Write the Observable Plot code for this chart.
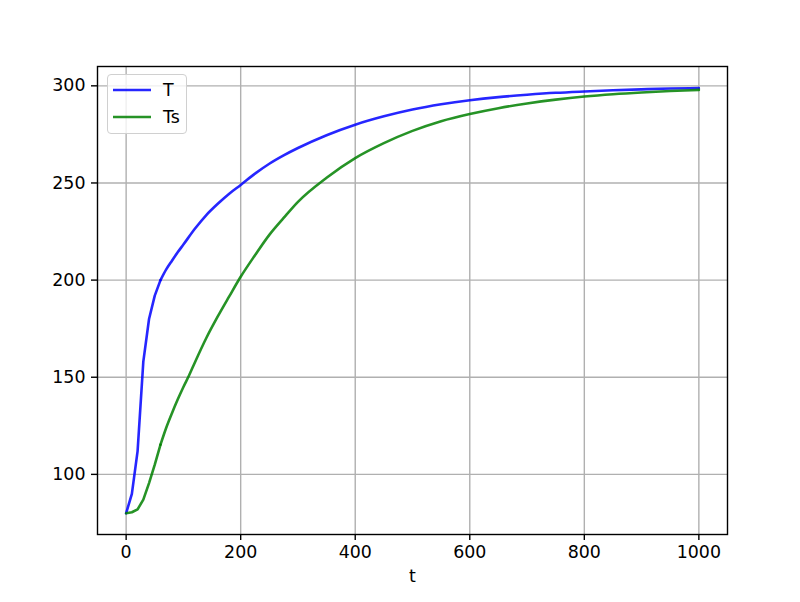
<!DOCTYPE html>
<html>
<head>
<meta charset="utf-8">
<script src="https://cdn.jsdelivr.net/npm/d3@7"></script>
<script src="https://cdn.jsdelivr.net/npm/@observablehq/plot@0.6"></script>
<style>
  html, body { margin: 0; padding: 0; background: #fff; }
  #wrap { position: relative; width: 800px; height: 602px; font-family: "DejaVu Sans", sans-serif; }
  #legend { position: absolute; left: 107px; top: 74px; width: 78px; height: 58px;
    border: 1px solid #d0d0d0; border-radius: 4px; background: rgba(255,255,255,0.8);
    font-size: 17.4px; color: #000; }
  .entry { position: absolute; left: 5px; height: 22px; display: flex; align-items: center; }
  .entry svg { display: block; }
  .entry span { margin-left: 12px; }
</style>
</head>
<body>
<div id="wrap"><div id="legend"></div></div>
<script>
// Series names and colours
const seriesNames = ["T", "Ts"];
const seriesColors = ["#0000ff", "#008000"];

// Time samples (t) and values
const tT = [0, 10, 20, 30, 40, 50, 60, 70, 80, 90, 100, 120, 140, 160, 180, 200, 225, 250, 275, 300, 350, 400, 450, 500, 550, 600, 650, 700, 750, 800, 850, 900, 950, 1000];
const valT = [80, 90, 112, 158, 180, 192, 200, 205.5, 210, 214.3, 218.3, 226.4, 233.5, 239.3, 244.5, 249, 254.8, 259.9, 264.2, 268, 274.6, 280, 284.3, 287.8, 290.5, 292.6, 294.2, 295.4, 296.4, 297.1, 297.7, 298.2, 298.6, 298.8];

const tTs = [0, 10, 20, 30, 40, 50, 60, 70, 80, 90, 100, 110, 120, 140, 160, 180, 200, 225, 250, 275, 300, 350, 400, 450, 500, 550, 600, 650, 700, 750, 800, 850, 900, 950, 1000];
const valTs = [80, 80.5, 82, 87, 95.5, 105, 115.3, 124, 131.5, 138.5, 145, 151, 157.6, 170.2, 181.3, 191.6, 201.7, 212.8, 223.3, 232, 240.3, 252.7, 262.8, 270.5, 276.8, 281.8, 285.5, 288.5, 290.9, 292.9, 294.5, 295.7, 296.6, 297.3, 297.9];

// Tick labels
const xTicks = [0, 200, 400, 600, 800, 1000];
const yTicks = [100, 150, 200, 250, 300];
const xLabel = "t";

const dataT = tT.map((t, i) => ({t, v: valT[i]}));
const dataTs = tTs.map((t, i) => ({t, v: valTs[i]}));
// early samples drawn with straight segments (visible kinks), later ones smoothed
const split = 60;
const early = d => d.filter(p => p.t <= split);
const late = d => d.filter(p => p.t >= split);

const lw = 2.6;
const chart = Plot.plot({
  width: 800,
  height: 602,
  marginLeft: 97,
  marginRight: 73,
  marginTop: 66,
  marginBottom: 68,
  style: {fontFamily: "DejaVu Sans, sans-serif", fontSize: "17.4px", background: "transparent", overflow: "visible"},
  x: {domain: [-50, 1050], label: null},
  y: {domain: [69.05, 309.95], label: null},
  marks: [
    Plot.gridX(xTicks, {stroke: "#b0b0b0", strokeOpacity: 1, strokeWidth: 1.4}),
    Plot.gridY(yTicks, {stroke: "#b0b0b0", strokeOpacity: 1, strokeWidth: 1.4}),
    Plot.line(early(dataT), {x: "t", y: "v", stroke: seriesColors[0], strokeOpacity: 0.85, strokeWidth: lw}),
    Plot.line(late(dataT), {x: "t", y: "v", stroke: seriesColors[0], strokeOpacity: 0.85, strokeWidth: lw, curve: "monotone-x"}),
    Plot.line(early(dataTs), {x: "t", y: "v", stroke: seriesColors[1], strokeOpacity: 0.85, strokeWidth: lw}),
    Plot.line(late(dataTs), {x: "t", y: "v", stroke: seriesColors[1], strokeOpacity: 0.85, strokeWidth: lw, curve: "monotone-x"}),
    Plot.frame({stroke: "#000", strokeWidth: 1.4}),
    Plot.axisX(xTicks, {tickSize: 6, tickPadding: 5, stroke: "#000", strokeWidth: 1.4, label: null, fontSize: 17.4, fill: "#000", tickFormat: d => String(d)}),
    Plot.axisY(yTicks, {tickSize: 6, tickPadding: 6, stroke: "#000", strokeWidth: 1.4, label: null, fontSize: 17.4, fill: "#000", tickFormat: d => String(d)}),
    Plot.text([xLabel], {frameAnchor: "bottom", dy: 47, text: d => d, fontSize: 17.4, fill: "#000"})
  ]
});
const wrap = document.getElementById("wrap");
wrap.insertBefore(chart, wrap.firstChild);

// Legend overlay built from the series arrays
const legend = document.getElementById("legend");
seriesNames.forEach((name, i) => {
  const e = document.createElement("div");
  e.className = "entry";
  e.style.top = (4 + i * 27) + "px";
  e.innerHTML = `<svg width="38" height="4"><line x1="0" y1="2" x2="38" y2="2" stroke="${seriesColors[i]}" stroke-opacity="0.85" stroke-width="${lw}"/></svg><span>${name}</span>`;
  legend.appendChild(e);
});
</script>
</body>
</html>
